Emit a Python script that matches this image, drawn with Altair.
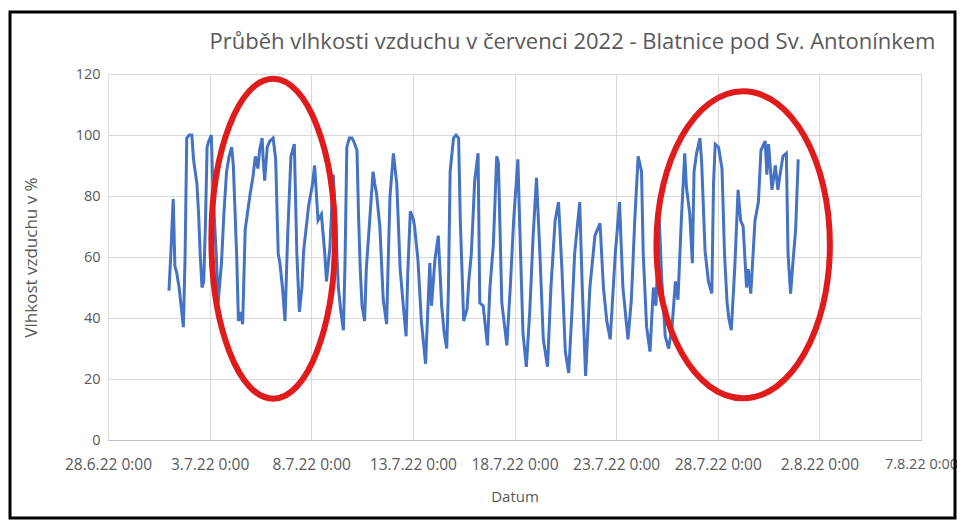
import altair as alt
import pandas as pd

# --- data (hours since 1.7.2022 0:00, relative humidity %) ---
hours = [0, 2, 5, 7, 9, 12, 17, 19, 21, 24, 27, 29, 33, 35, 37, 39, 41, 43, 45, 47,
         50, 52, 56, 58, 62, 65, 68, 71, 74, 76, 80, 82, 84, 87, 90, 93, 96, 99, 102, 105,
         107, 110, 111, 113, 116, 119, 123, 126, 129, 131, 134, 137, 140, 144, 148, 151, 154, 157, 159, 163,
         165, 169, 172, 176, 180, 184, 186, 190, 194, 196, 200, 203, 206, 208, 210, 213, 216, 218, 222, 224,
         226, 228, 231, 233, 237, 241, 243, 245, 249, 253, 257, 259, 261, 265, 269, 273, 277, 280, 282, 285,
         288, 290, 294, 298, 303, 306, 308, 310, 314, 318, 322, 325, 328, 330, 332, 336, 339, 342, 344, 348,
         352, 354, 357, 361, 365, 367, 371, 376, 379, 383, 387, 389, 393, 396, 399, 403, 407, 412, 414, 418,
         422, 426, 430, 434, 438, 442, 447, 451, 456, 460, 464, 468, 472, 476, 479, 485, 488, 492, 497, 503,
         509, 513, 517, 521, 527, 532, 536, 542, 546, 550, 554, 558, 560, 564, 568, 572, 575, 579, 582, 586,
         590, 594, 598, 601, 605, 609, 611, 615, 618, 620, 623, 627, 629, 633, 637, 641, 643, 645, 649, 653,
         656, 659, 661, 664, 668, 672, 675, 678, 682, 684, 687, 692, 696, 699, 704, 706, 708, 712, 716, 719,
         721, 725, 729, 731, 734, 737, 740, 743]
humidity = [49, 60, 79, 57, 55, 50, 37, 60, 99, 100, 100, 92, 84, 74, 60, 50, 52, 70, 96, 98,
            100, 81, 60, 45, 58, 75, 88, 93, 96, 90, 60, 39, 42, 38, 69, 75, 81, 86, 93, 89,
            95, 99, 93, 85, 96, 98, 99, 92, 61, 58, 50, 39, 66, 93, 97, 61, 42, 50, 62, 72,
            77, 83, 90, 72, 74, 61, 52, 63, 87, 76, 50, 42, 36, 60, 96, 99, 99, 98, 95, 72,
            55, 44, 39, 56, 72, 88, 84, 81, 70, 46, 38, 60, 80, 94, 84, 56, 43, 34, 55, 75,
            73, 70, 59, 39, 25, 45, 58, 44, 59, 67, 44, 35, 30, 50, 88, 99, 100, 99, 72, 39,
            43, 52, 61, 85, 94, 45, 44, 31, 50, 64, 93, 91, 45, 38, 31, 50, 72, 92, 72, 35,
            24, 42, 67, 86, 61, 33, 24, 50, 72, 78, 56, 29, 22, 43, 61, 78, 50, 21, 50, 67,
            71, 50, 39, 33, 61, 78, 50, 33, 46, 72, 93, 88, 61, 37, 29, 50, 44, 72, 52, 34,
            30, 37, 52, 46, 72, 94, 83, 74, 58, 88, 94, 99, 91, 62, 52, 48, 84, 97, 96, 89,
            61, 45, 40, 36, 56, 82, 72, 70, 50, 56, 48, 72, 78, 95, 98, 87, 97, 82, 90, 82,
            86, 93, 94, 61, 48, 59, 69, 92]

tick_dates = ["2022-06-28", "2022-07-03", "2022-07-08", "2022-07-13", "2022-07-18",
              "2022-07-23", "2022-07-28", "2022-08-02", "2022-08-07"]
y_ticks = [0, 20, 40, 60, 80, 100, 120]

# highlighted periods (red ellipses): centre time (hours since 1.7.) and centre humidity
ellipse_hours = [123, 678]
ellipse_values = [66, 64]

title_text = "Průběh  vlhkosti vzduchu v červenci 2022 - Blatnice pod Sv. Antonínkem"

# --- build tables ---
start = pd.Timestamp("2022-07-01 00:00")
df = pd.DataFrame({
    "Datum": [start + pd.Timedelta(hours=h) for h in hours],
    "Vlhkost": humidity,
})
ell = pd.DataFrame({
    "Datum": [start + pd.Timedelta(hours=h) for h in ellipse_hours],
    "Vlhkost": ellipse_values,
})


def dt(s):
    t = pd.Timestamp(s)
    return alt.DateTime(year=t.year, month=t.month, date=t.day, hours=0, minutes=0)


tick_values = [dt(s) for s in tick_dates]

FONT = "Open Sans"
GREY = "#595959"

x_scale = alt.Scale(domain=[tick_values[0], tick_values[-1]])
y_scale = alt.Scale(domain=[0, 120])

x_enc = alt.X(
    "Datum:T",
    title="Datum",
    scale=x_scale,
    axis=alt.Axis(
        values=tick_values,
        format="%-d.%-m.%y %-H:%M",
        labelAngle=0,
        labelOverlap=False,
        labelBound=False,
        labelFlush=False,
        labelFontSize={"condition": {"test": "datum.index === 1", "value": 14.5}, "value": 15.5},
        ticks=False,
        domain=True,
        domainColor="#BFBFBF",
        domainWidth=1,
        grid=True,
        labelPadding=17,
        titlePadding=17,
        titleFontSize=15,
    ),
)
y_enc = alt.Y(
    "Vlhkost:Q",
    title="Vlhkost vzduchu v %",
    scale=y_scale,
    axis=alt.Axis(
        values=y_ticks,
        ticks=False,
        domain=False,
        grid=True,
        labelFontSize=14.5,
        labelPadding=8,
        titlePadding=35,
        titleFontSize=17,
    ),
)

line = alt.Chart(df).mark_line(color="#4472C4", strokeWidth=3).encode(x=x_enc, y=y_enc)


def ellipse_path(ratio):
    k = 0.5523
    a = ratio
    ka = k * a
    return (f"M0,-1C{ka:.4f},-1 {a:.4f},-{k} {a:.4f},0"
            f"C{a:.4f},{k} {ka:.4f},1 0,1"
            f"C-{ka:.4f},1 -{a:.4f},{k} -{a:.4f},0"
            f"C-{a:.4f},-{k} -{ka:.4f},-1 0,-1Z")


RED = "#E01B1B"
ell_left = alt.Chart(ell.iloc[[0]]).mark_point(
    shape=ellipse_path(0.386), size=102400, filled=False, stroke=RED, strokeWidth=6, opacity=1
).encode(x=alt.X("Datum:T", scale=x_scale), y=alt.Y("Vlhkost:Q", scale=y_scale))
ell_right = alt.Chart(ell.iloc[[1]]).mark_point(
    shape=ellipse_path(0.565), size=94249, filled=False, stroke=RED, strokeWidth=6, opacity=1
).encode(x=alt.X("Datum:T", scale=x_scale), y=alt.Y("Vlhkost:Q", scale=y_scale))

frame = alt.Chart(pd.DataFrame({"f": [0]})).mark_rect(
    filled=False, stroke="black", strokeWidth=3, fill=None
).encode(x=alt.value(-98), x2=alt.value(847), y=alt.value(-62), y2=alt.value(444))

chart = alt.layer(line, ell_left, ell_right, frame).properties(
    width=813,
    height=366,
    autosize=alt.AutoSizeParams(type="none"),
    padding={"left": 100, "top": 66, "right": 36, "bottom": 80},
    title=alt.TitleParams(
        title_text,
        anchor="middle",
        frame="group",
        dx=58,
        offset=-65,
        baseline="bottom",
        font=FONT,
        fontSize=22,
        fontWeight="normal",
        color=GREY,
    ),
).configure_view(stroke=None).configure_axis(
    labelFont=FONT,
    labelColor=GREY,
    titleFont=FONT,
    titleColor=GREY,
    titleFontWeight="normal",
    gridColor="#D9D9D9",
    gridWidth=1,
)

chart.save("out.html", embed_options={"renderer": "svg", "actions": False})
